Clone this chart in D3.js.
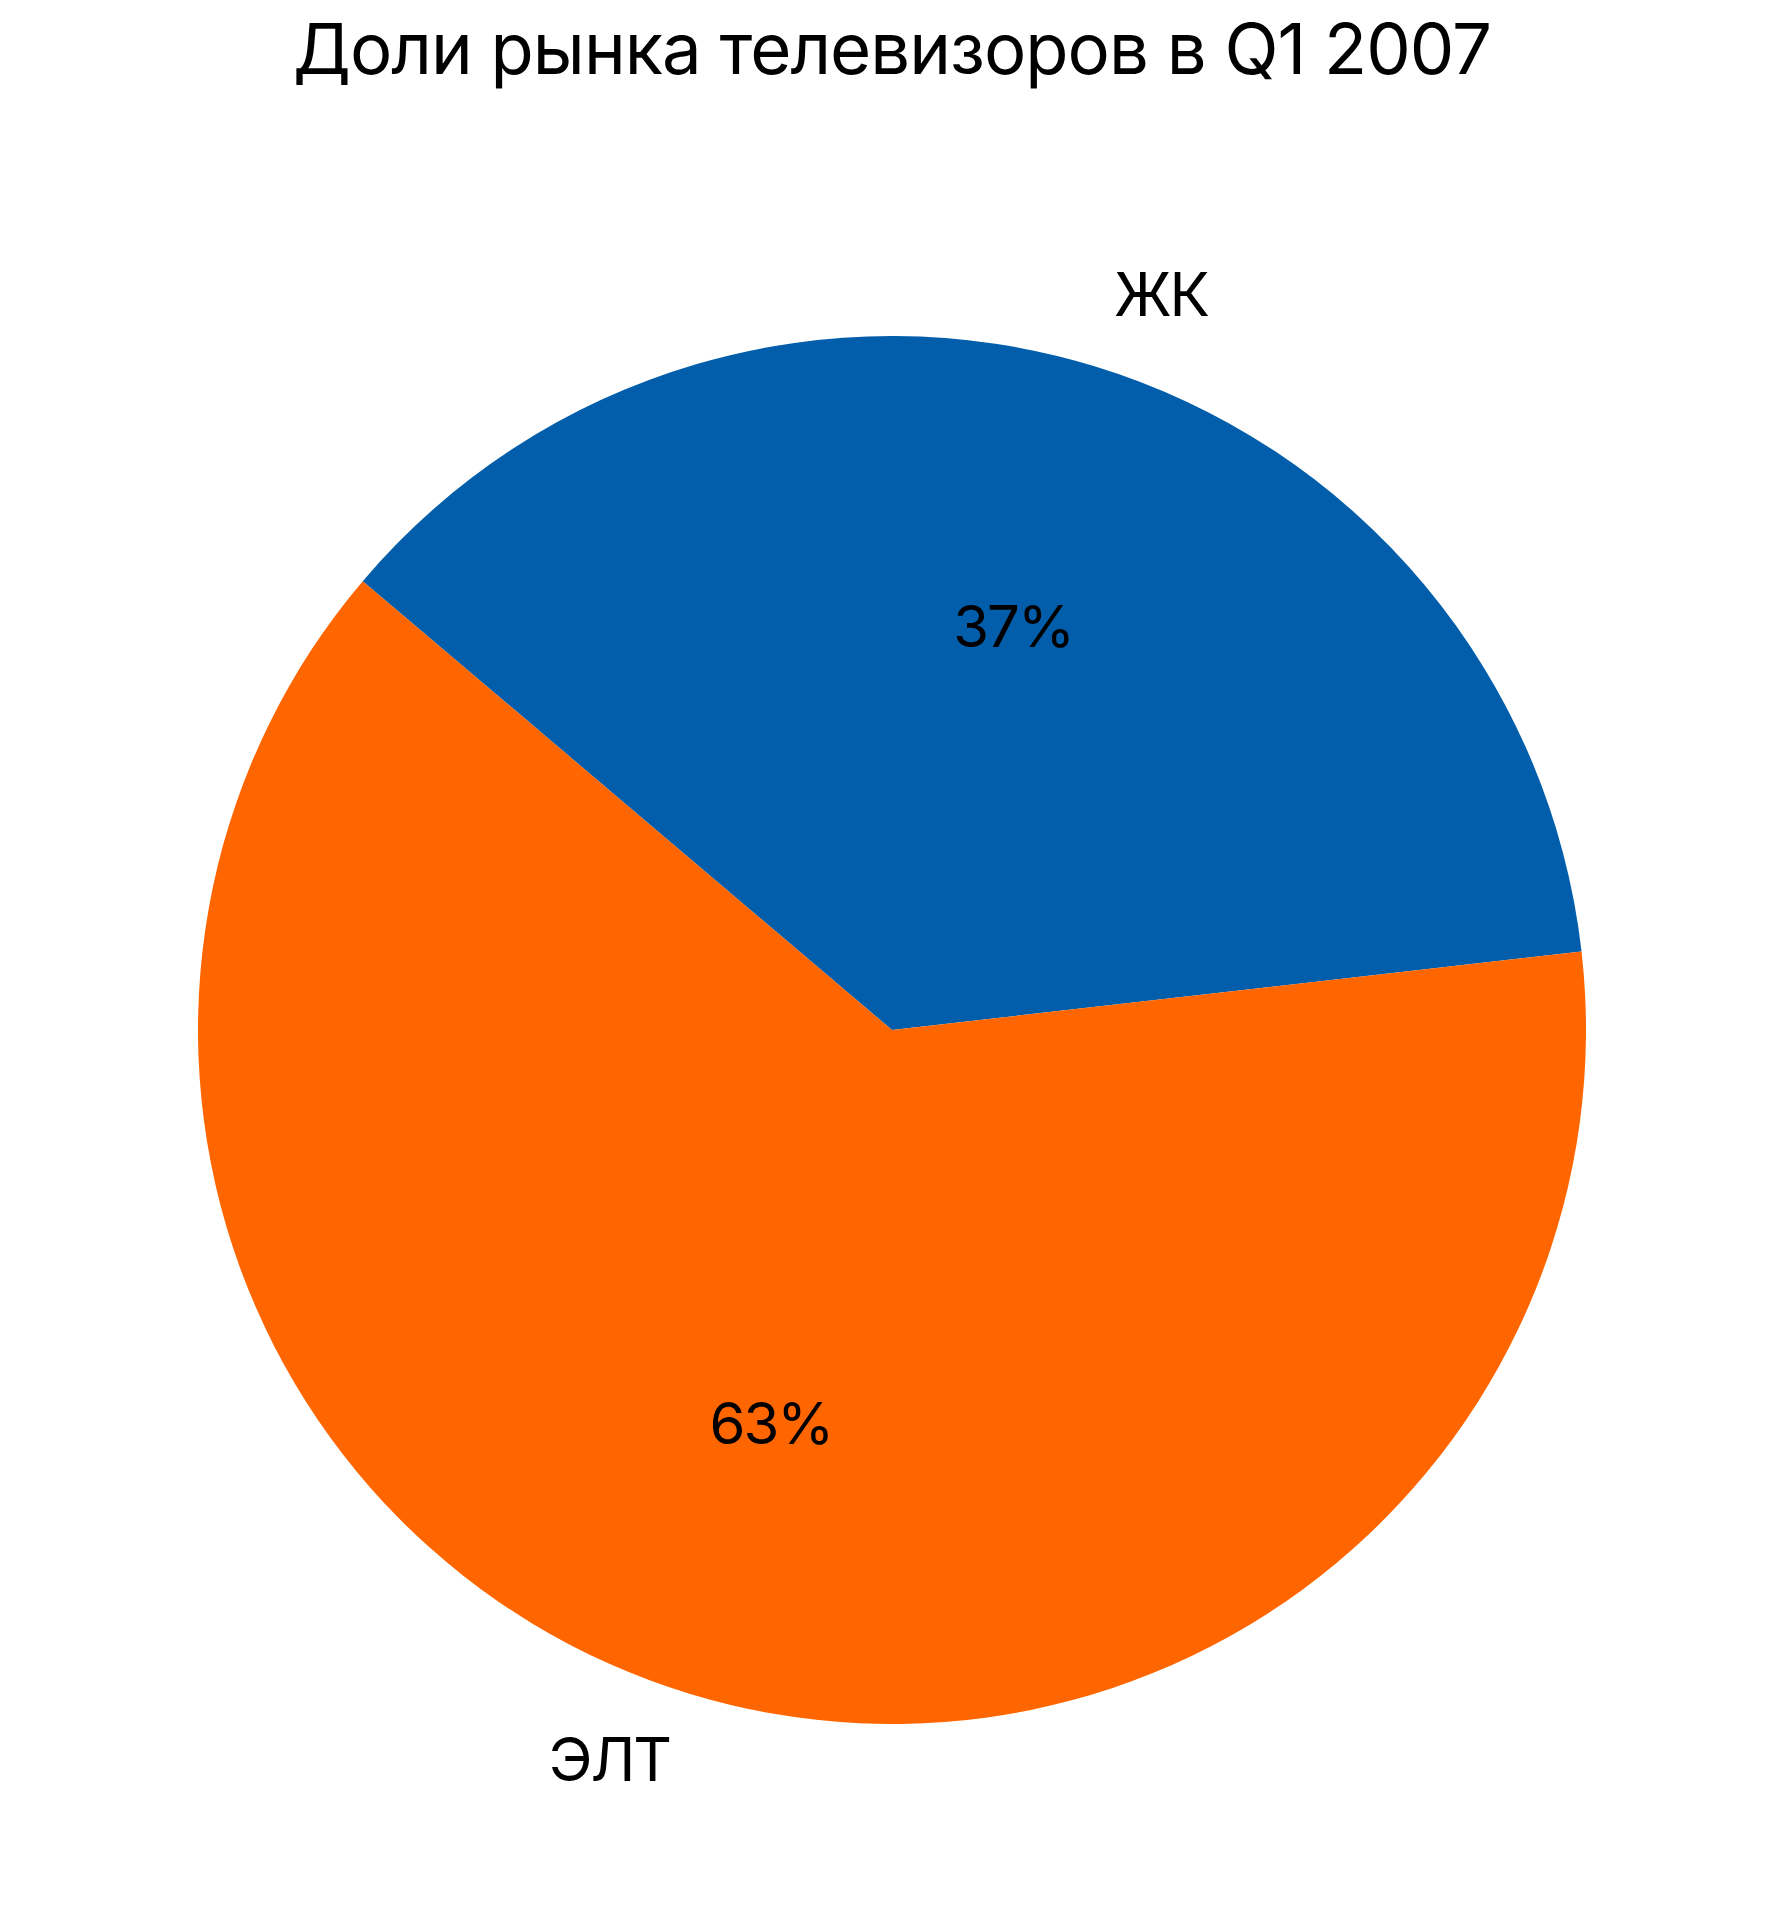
<!DOCTYPE html>
<html>
<head>
<meta charset="utf-8">
<script src="https://cdn.jsdelivr.net/npm/d3@7"></script>
<style>
  html, body { margin: 0; padding: 0; background: #ffffff; }
  svg { display: block; }
  text { font-family: Inter, "Noto Sans", "DejaVu Sans", sans-serif; fill: #000; }
</style>
</head>
<body>
<svg id="chart" width="1780" height="1920"></svg>
<script>
// ---- data ----
const title = "Доли рынка телевизоров в Q1 2007";
const categories = ["ЖК", "ЭЛТ"];
const shares = [37, 63];
const colors = ["#025EAA", "#FF6600"];

// ---- layout ----
const cx = 892, cy = 1030, R = 694;
const startDeg = -49.7;

const svg = d3.select("#chart");

// title
const t = svg.append("text")
  .attr("x", cx)
  .attr("y", 74)
  .attr("text-anchor", "middle")
  .style("font-size", "68px")
  .style("letter-spacing", "-1px")
  .text(title);
// fit title width to reference (~1197px)
const tw = t.node().getComputedTextLength();
t.style("font-size", (68 * 1197 / tw) + "px");

const pie = d3.pie()
  .sort(null)
  .value(d => d.v)
  .startAngle(startDeg * Math.PI / 180)
  .endAngle(startDeg * Math.PI / 180 + 2 * Math.PI);

const data = categories.map((c, i) => ({ c, v: shares[i] }));
const arcs = pie(data);

const color = d3.scaleOrdinal().domain(categories).range(colors);

const arc = d3.arc().innerRadius(0).outerRadius(R);
const pctArc = d3.arc().innerRadius(R * 0.6).outerRadius(R * 0.6);
const lblArc = d3.arc().innerRadius(R * 1.1).outerRadius(R * 1.1);

const g = svg.append("g").attr("transform", `translate(${cx},${cy})`);

g.selectAll("path.slice")
  .data(arcs)
  .join("path")
  .attr("class", "slice")
  .attr("d", arc)
  .attr("fill", d => color(d.data.c));

const total = d3.sum(shares);

g.selectAll("text.pct")
  .data(arcs)
  .join("text")
  .attr("class", "pct")
  .attr("x", d => pctArc.centroid(d)[0])
  .attr("y", d => pctArc.centroid(d)[1])
  .attr("dy", "0.27em")
  .attr("text-anchor", "middle")
  .style("font-size", "58px")
  .style("letter-spacing", "-2px")
  .text(d => Math.round(d.data.v / total * 100) + "%");

g.selectAll("text.lbl")
  .data(arcs)
  .join("text")
  .attr("class", "lbl")
  .attr("x", d => lblArc.centroid(d)[0])
  .attr("y", d => lblArc.centroid(d)[1])
  .attr("dy", d => lblArc.centroid(d)[1] < 0 ? "0.27em" : "0.34em")
  .attr("text-anchor", d => lblArc.centroid(d)[0] > 0 ? "start" : "end")
  .style("font-size", "60px")
  .style("letter-spacing", "-2px")
  .text(d => d.data.c);
</script>
</body>
</html>
